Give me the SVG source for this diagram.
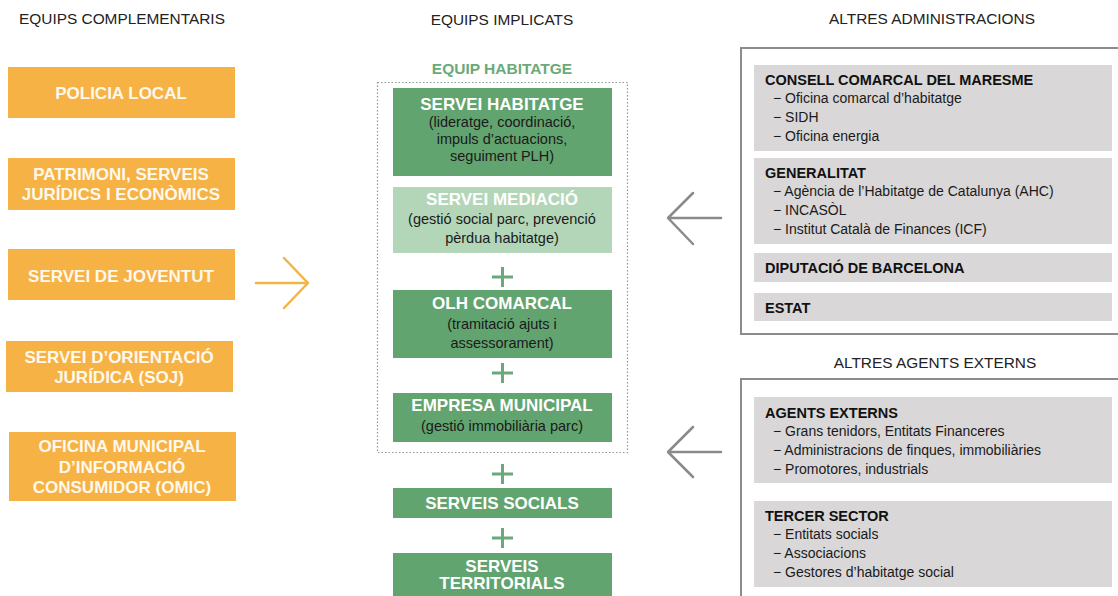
<svg xmlns="http://www.w3.org/2000/svg" width="1118" height="596" viewBox="0 0 1118 596">
<style>
.hdr{font-family:"Liberation Sans",Arial,sans-serif;font-size:15.4px;fill:#222;text-anchor:middle}
.ob{fill:#F6B244}
.ot{font-family:"Liberation Sans",Arial,sans-serif;font-size:17px;font-weight:bold;fill:#FFF8EC;text-anchor:middle}
.gb{fill:#62A46F}
.lgb{fill:#B4D6B8}
.gt{font-family:"Liberation Sans",Arial,sans-serif;font-size:17px;font-weight:bold;fill:#FFFFFF;text-anchor:middle}
.gs{font-family:"Liberation Sans",Arial,sans-serif;font-size:14.5px;fill:#1A1A1A;text-anchor:middle}
.plus{stroke:#6AAA78;stroke-width:3;fill:none}
.outer{fill:none;stroke:#8C8C8C;stroke-width:2}
.gr{fill:#D9D7D7}
.rh{font-family:"Liberation Sans",Arial,sans-serif;font-size:14.5px;font-weight:bold;fill:#111}
.ri{font-family:"Liberation Sans",Arial,sans-serif;font-size:14px;fill:#1A1A1A}
.arrO{stroke:#F2B443;stroke-width:2.5;fill:none;stroke-linecap:round;stroke-linejoin:round}
.arrG{stroke:#8A8A8A;stroke-width:2.5;fill:none;stroke-linecap:round;stroke-linejoin:round}
</style>
<rect width="1118" height="596" fill="#FFFFFF"/>

<g id="headers">
<text class="hdr" x="122" y="24">EQUIPS COMPLEMENTARIS</text>
<text class="hdr" x="502" y="25">EQUIPS IMPLICATS</text>
<text class="hdr" x="932" y="24">ALTRES ADMINISTRACIONS</text>
<text class="hdr" x="935" y="368">ALTRES AGENTS EXTERNS</text>
</g>

<g id="policia-local">
<rect class="ob" x="8" y="67" width="227" height="51"/>
<text class="ot" x="121" y="99">POLICIA LOCAL</text>
</g>
<g id="patrimoni">
<rect class="ob" x="8" y="158" width="227" height="52"/>
<text class="ot" x="121" y="180">PATRIMONI, SERVEIS</text>
<text class="ot" x="121" y="200">JURÍDICS I ECONÒMICS</text>
</g>
<g id="joventut">
<rect class="ob" x="8" y="249" width="227" height="51"/>
<text class="ot" x="121" y="282">SERVEI DE JOVENTUT</text>
</g>
<g id="soj">
<rect class="ob" x="6" y="341" width="227" height="51"/>
<text class="ot" x="119" y="363">SERVEI D’ORIENTACIÓ</text>
<text class="ot" x="119" y="383">JURÍDICA (SOJ)</text>
</g>
<g id="omic">
<rect class="ob" x="9" y="432" width="227" height="69"/>
<text class="ot" x="122" y="452">OFICINA MUNICIPAL</text>
<text class="ot" x="122" y="473">D’INFORMACIÓ</text>
<text class="ot" x="122" y="493">CONSUMIDOR (OMIC)</text>
</g>

<g id="equip-habitatge">
<rect x="377.5" y="82.5" width="250" height="370" fill="none" stroke="#8E9A96" stroke-width="1.2" stroke-dasharray="1.5 2"/>
<text x="502" y="74" font-family="'Liberation Sans',Arial,sans-serif" font-size="15.5" font-weight="bold" fill="#6AAA78" text-anchor="middle">EQUIP HABITATGE</text>
</g>

<g id="servei-habitatge">
<rect class="gb" x="393" y="88" width="219" height="88"/>
<text class="gt" x="502" y="110">SERVEI HABITATGE</text>
<text class="gs" x="502" y="127">(lideratge, coordinació,</text>
<text class="gs" x="502" y="144">impuls d’actuacions,</text>
<text class="gs" x="502" y="161">seguiment PLH)</text>
</g>
<g id="servei-mediacio">
<rect class="lgb" x="393" y="187" width="219" height="66"/>
<text class="gt" x="502" y="205">SERVEI MEDIACIÓ</text>
<text class="gs" x="502" y="224">(gestió social parc, prevenció</text>
<text class="gs" x="502" y="243">pèrdua habitatge)</text>
</g>
<g id="olh-comarcal">
<rect class="gb" x="393" y="290" width="219" height="68"/>
<text class="gt" x="502" y="309">OLH COMARCAL</text>
<text class="gs" x="502" y="329">(tramitació ajuts i</text>
<text class="gs" x="502" y="348">assessorament)</text>
</g>
<g id="empresa-municipal">
<rect class="gb" x="393" y="393" width="219" height="49"/>
<text class="gt" x="502" y="411">EMPRESA MUNICIPAL</text>
<text class="gs" x="502" y="431">(gestió immobiliària parc)</text>
</g>
<g id="serveis-socials">
<rect class="gb" x="393" y="488" width="219" height="30"/>
<text class="gt" x="502" y="509">SERVEIS SOCIALS</text>
</g>
<g id="serveis-territorials">
<rect class="gb" x="393" y="553" width="219" height="50"/>
<text class="gt" x="502" y="572">SERVEIS</text>
<text class="gt" x="502" y="589">TERRITORIALS</text>
</g>

<g id="altres-administracions">
<rect class="outer" x="741" y="48" width="380" height="286"/>
</g>
<g id="consell-comarcal">
<rect class="gr" x="754" y="65" width="358" height="86"/>
<text class="rh" x="765" y="85">CONSELL COMARCAL DEL MARESME</text>
<text class="ri" x="773" y="103">−  Oficina comarcal d’habitatge</text>
<text class="ri" x="773" y="122">−  SIDH</text>
<text class="ri" x="773" y="141">−  Oficina energia</text>
</g>
<g id="generalitat">
<rect class="gr" x="754" y="158" width="358" height="86"/>
<text class="rh" x="765" y="178">GENERALITAT</text>
<text class="ri" x="773" y="196">−  Agència de l’Habitatge de Catalunya (AHC)</text>
<text class="ri" x="773" y="215">−  INCASÒL</text>
<text class="ri" x="773" y="234">−  Institut Català de Finances (ICF)</text>
</g>
<g id="diputacio">
<rect class="gr" x="754" y="253" width="358" height="29"/>
<text class="rh" x="765" y="273">DIPUTACIÓ DE BARCELONA</text>
</g>
<g id="estat">
<rect class="gr" x="754" y="293" width="358" height="28"/>
<text class="rh" x="765" y="313">ESTAT</text>
</g>

<g id="altres-agents">
<rect class="outer" x="741" y="379" width="380" height="230"/>
</g>
<g id="agents-externs">
<rect class="gr" x="754" y="397" width="358" height="86"/>
<text class="rh" x="765" y="418">AGENTS EXTERNS</text>
<text class="ri" x="773" y="436">−  Grans tenidors, Entitats Financeres</text>
<text class="ri" x="773" y="455">−  Administracions de finques, immobiliàries</text>
<text class="ri" x="773" y="474">−  Promotores, industrials</text>
</g>
<g id="tercer-sector">
<rect class="gr" x="754" y="501" width="358" height="86"/>
<text class="rh" x="765" y="521">TERCER SECTOR</text>
<text class="ri" x="773" y="539">−  Entitats socials</text>
<text class="ri" x="773" y="558">−  Associacions</text>
<text class="ri" x="773" y="577">−  Gestores d’habitatge social</text>
</g>

<g id="connectors">
<path class="arrO" d="M256 283 H307 M284 258 L308 283 L284 308"/>
<path class="arrG" d="M721 218 H669 M693 193 L668 218 L693 244"/>
<path class="arrG" d="M721 452 H669 M693 427 L668 452 L693 477"/>
<path class="plus" d="M492 277 H513 M502.5 267 V287"/>
<path class="plus" d="M492 373 H513 M502.5 363 V383"/>
<path class="plus" d="M492 474 H513 M502.5 464 V484"/>
<path class="plus" d="M492 538 H513 M502.5 528 V548"/>
</g>
</svg>
